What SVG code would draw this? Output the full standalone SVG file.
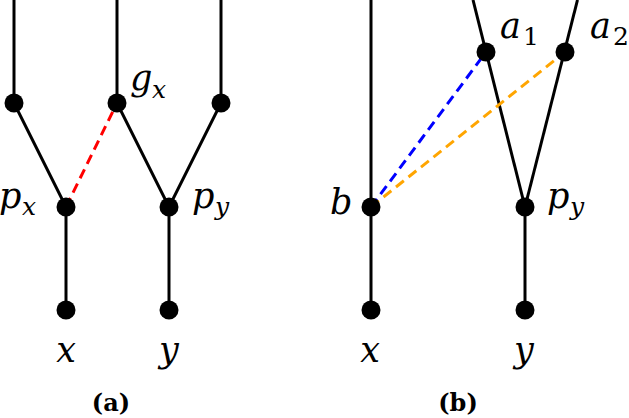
<svg xmlns="http://www.w3.org/2000/svg" width="629" height="418" viewBox="0 0 629 418">
<style>
.e{stroke:#000;stroke-width:3;fill:none}
.n{fill:#000}
.d{stroke-width:3;fill:none;stroke-dasharray:10 6}
.m{font-family:'DejaVu Serif',serif;font-style:italic;font-size:35px}
.s{font-family:'DejaVu Serif',serif;font-style:italic;font-size:25px}
.r{font-family:'DejaVu Serif',serif;font-size:25px}
.c{font-family:'DejaVu Serif',serif;font-weight:bold;font-size:24px;text-anchor:middle}
</style>
<rect width="629" height="418" fill="#fff"/>
<g id="connectors">
<line class="e" x1="14" y1="0" x2="14" y2="103"/>
<line class="e" x1="14" y1="103" x2="66" y2="207"/>
<line class="e" x1="66" y1="207" x2="66" y2="310"/>
<line class="e" x1="117" y1="0" x2="117" y2="103"/>
<line class="e" x1="117" y1="103" x2="169" y2="207"/>
<line class="e" x1="221" y1="0" x2="221" y2="103"/>
<line class="e" x1="221" y1="103" x2="169" y2="207"/>
<line class="e" x1="169" y1="207" x2="169" y2="310"/>
<line class="d" stroke="#ff0000" x1="66" y1="207" x2="117" y2="103"/>
<line class="e" x1="371" y1="0" x2="371" y2="310"/>
<line class="e" x1="473" y1="0" x2="525" y2="207"/>
<line class="e" x1="577.5" y1="0" x2="525" y2="207"/>
<line class="e" x1="525" y1="207" x2="525" y2="310"/>
<line class="d" stroke="#0000ff" x1="371" y1="207" x2="486" y2="52"/>
<line class="d" stroke="#ffa500" x1="371" y1="207" x2="565" y2="52"/>
</g>
<g id="a-left-top"><circle class="n" cx="14" cy="103" r="9.5"/></g>
<g id="a-gx"><circle class="n" cx="117" cy="103" r="9.5"/><text class="m" x="130" y="90">g</text><text class="s" x="152" y="98">x</text></g>
<g id="a-right-top"><circle class="n" cx="221" cy="103" r="9.5"/></g>
<g id="a-px"><circle class="n" cx="66" cy="207" r="9.5"/><text class="m" x="-1" y="208">p</text><text class="s" x="22" y="215">x</text></g>
<g id="a-py"><circle class="n" cx="169" cy="207" r="9.5"/><text class="m" x="192" y="208">p</text><text class="s" x="215" y="215">y</text></g>
<g id="a-x"><circle class="n" cx="66" cy="310" r="9.5"/><text class="m" x="66" y="362" text-anchor="middle">x</text></g>
<g id="a-y"><circle class="n" cx="169" cy="310" r="9.5"/><text class="m" x="169" y="362" text-anchor="middle">y</text></g>
<g id="b-b"><circle class="n" cx="371" cy="207" r="9.5"/><text class="m" x="330" y="214">b</text></g>
<g id="b-a1"><circle class="n" cx="486" cy="52" r="9.5"/><text class="m" x="500" y="38">a</text><text class="r" x="523" y="45">1</text></g>
<g id="b-a2"><circle class="n" cx="565" cy="52" r="9.5"/><text class="m" x="590" y="38">a</text><text class="r" x="613" y="45">2</text></g>
<g id="b-py"><circle class="n" cx="525" cy="207" r="9.5"/><text class="m" x="547" y="208">p</text><text class="s" x="570" y="215">y</text></g>
<g id="b-x"><circle class="n" cx="371" cy="310" r="9.5"/><text class="m" x="370" y="362" text-anchor="middle">x</text></g>
<g id="b-y"><circle class="n" cx="525" cy="310" r="9.5"/><text class="m" x="524" y="362" text-anchor="middle">y</text></g>
<g id="captions"><text class="c" x="111" y="411">(a)</text><text class="c" x="458" y="411">(b)</text></g>
</svg>
